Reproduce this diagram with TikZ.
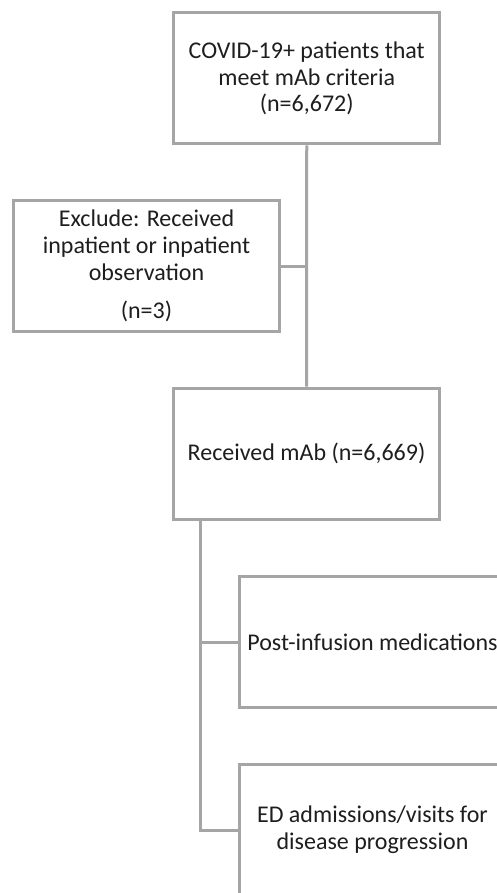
\documentclass[tikz,border=0pt]{standalone}
\usepackage{fontspec}
\setmainfont{Carlito}
\definecolor{linegray}{HTML}{A5A5A5}
\definecolor{txt}{HTML}{1E1E1E}
\begin{document}
\begin{tikzpicture}[x=1pt,y=-1pt,
  box/.style={draw=linegray, line width=3pt, fill=white, align=center, text=txt,
    font=\fontsize{24}{26.7}\selectfont, minimum width=266pt, minimum height=131pt, inner sep=0pt},
  conn/.style={draw=linegray, line width=3pt}]
\useasboundingbox (0,0) rectangle (497,893);
\node[box] (top) at (306.75,78.5) {COVID-19+ patients that\\meet mAb criteria\\(n=6,672)};
\node[box] (excl) at (146.5,266) {Exclude: Received\\inpatient or inpatient\\observation\\[11.5pt](n=3)};
\node[box] (recv) at (306.5,453.5) {Received mAb (n=6,669)};
\node[box] (post) at (372.5,642) {Post-infusion medications};
\node[box] (ed) at (372.5,830) {ED admissions/visits for\\disease progression};
\coordinate (j1) at (top.south |- excl.east);
\coordinate (j2) at (200.7,0 |- recv.south);
\coordinate (j3) at (j2 |- post.west);
\coordinate (j4) at (j2 |- ed.west);
\draw[conn] (top.south) -- (recv.north);
\draw[conn] (excl.east) -- (j1);
\draw[conn] (j2) -- (j4) -- (ed.west);
\draw[conn] (j3) -- (post.west);
\end{tikzpicture}
\end{document}
